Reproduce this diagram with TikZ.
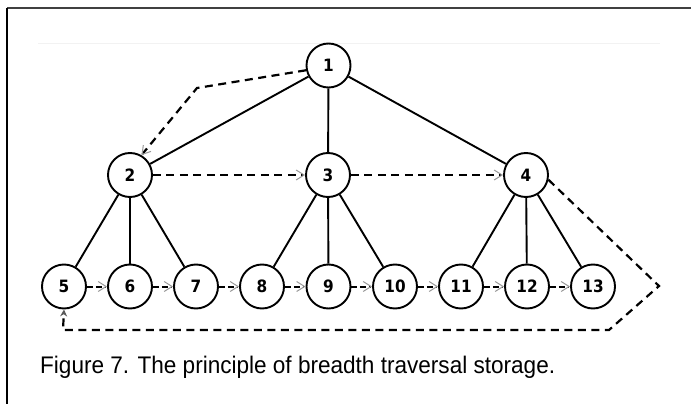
\documentclass[tikz,border=0pt]{standalone}
\usepackage{fontspec}
\setmainfont{Liberation Sans}
\newfontfamily\numfont{DejaVu Sans Condensed}
\usetikzlibrary{arrows.meta,shapes.geometric}

\begin{document}
\begin{tikzpicture}[x=1pt,y=-1pt,
  vert/.style={draw, circle, line width=1.9pt, minimum size=44pt,
    inner sep=0pt, font=\numfont\bfseries\fontsize{17}{17}\selectfont},
  edge/.style={line width=1.9pt},
  opentip/.tip={Straight Barb[length=8pt,width=10pt,line width=1pt,color=gray!80]},
  link/.style={line width=2.2pt, dash pattern=on 8pt off 5.5pt, -opentip},
  hop/.style={line width=2pt, dash pattern=on 6pt off 3pt, -opentip},
  frame/.style={line width=1.5pt}
]
\useasboundingbox (0,0) rectangle (691,404);

% page frame
\draw[frame, line width=2.5pt, black!75] (7,8) -- (691,8);
\draw[frame] (7,8) -- (7,404);
\draw[gray!10, line width=0.8pt] (38,43) -- (660,43);

% tree vertices
\node[vert] (n1) at (328.5,65.5) {1};
\node[vert] (n2) at (130,175) {2};
\node[vert] (n3) at (328,175) {3};
\node[vert] (n4) at (526,175) {4};
\foreach \i/\x in {5/64,6/130,7/196,8/262,9/328.5,10/395,11/461,12/527,13/593}
  \node[vert] (n\i) at (\x,286.5) {\i};

% parent-child edges
\foreach \a/\b in {n1/n2,n1/n3,n1/n4,n2/n5,n2/n6,n2/n7,n3/n8,n3/n9,n3/n10,n4/n11,n4/n12,n4/n13}
  \draw[edge] (\a) -- (\b);

% breadth-first storage order
\coordinate (c1) at (197,88);
\draw[link] (n1.192) -- (c1) -- (n2.60);
\draw[link] (n2) -- (n3);
\draw[link] (n3) -- (n4);
\foreach \a/\b in {5/6,6/7,7/8,8/9,9/10,10/11,11/12,12/13}
  \draw[hop] (n\a) -- (n\b);

\coordinate (c2) at (659,286);
\coordinate (c3) at (609,330);
\coordinate (c4) at (63,330);
\draw[line width=2.2pt, dash pattern=on 8pt off 5.5pt,
  -{Stealth[length=7pt,width=7pt,color=gray!70!black]}]
  (n4.-12) -- (c2) -- (c3) -- (c4) -- (n5.south);

% caption
\node[anchor=base west, inner sep=0pt, font=\fontsize{24}{28}\selectfont] (cap)
  at (40,373) {\scalebox{0.94}[1]{Figure 7. The principle of breadth traversal storage.}};
\end{tikzpicture}
\end{document}
